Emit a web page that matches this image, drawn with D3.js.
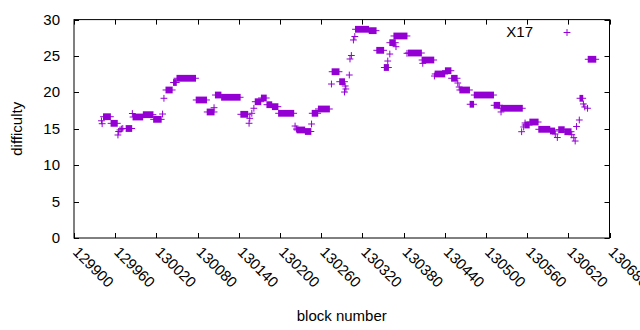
<!DOCTYPE html>
<html>
<head>
<meta charset="utf-8">
<script src="https://cdn.jsdelivr.net/npm/d3@7"></script>
<style>
  html, body { margin: 0; padding: 0; background: #fff; }
  text { font-family: "Liberation Sans", Arial, sans-serif; fill: #000; }
</style>
</head>
<body>
<svg id="chart" width="640" height="330"></svg>
<script>
// runs of blocks at one difficulty (start block, end block, difficulty); single points have start == end
var runStart = [129940,129941,129943,129954,129964,129965,129967,129969,129971,129976,
  129985,129986,130001,130016,130029,130031,130034,130045,130050,130078,
  130094,130104,130106,130115,130143,130155,130156,130159,130162,130164,
  130173,130181,130189,130198,130222,130224,130225,130237,130246,130247,
  130256,130275,130276,130287,130294,130295,130296,130301,130302,130304,
  130307,130309,130310,130330,130341,130352,130357,130360,130360,130369,
  130366,130385,130387,130408,130407,130425,130426,130441,130450,130459,
  130461,130462,130477,130483,130512,130522,130522,130552,130555,130557,
  130557,130564,130577,130594,130601,130604,130606,130615,130625,130628,
  130630,130632,130636,130637,130642,130644,130648,130649];
var runEnd = [129940,129941,129953,129963,129964,129965,129967,129969,129971,129984,
  129985,130000,130015,130027,130029,130031,130043,130049,130077,130093,
  130104,130104,130114,130142,130153,130155,130156,130159,130162,130172,
  130180,130188,130197,130220,130222,130224,130236,130245,130246,130255,
  130272,130275,130286,130294,130294,130295,130296,130301,130302,130304,
  130307,130309,130329,130340,130351,130358,130357,130360,130368,130369,
  130385,130385,130406,130408,130424,130425,130440,130449,130458,130459,
  130461,130476,130482,130511,130520,130522,130553,130552,130555,130557,
  130563,130576,130593,130600,130601,130604,130614,130624,130625,130628,
  130630,130632,130636,130641,130642,130644,130648,130660];
var runDiff = [16.1,15.7,16.66,15.75,14.15,14.63,14.84,14.97,15.04,15.04,
  17.1,16.62,16.94,16.3,17.03,19.19,20.33,21.36,21.94,18.96,
  17.31,17.9,19.64,19.33,16.99,15.76,16.44,17.13,17.82,18.72,
  19.23,18.31,18.04,17.13,15.38,14.97,14.84,14.63,15.66,17.13,
  17.72,21.15,22.84,21.47,20.05,20.88,20.47,22.39,24.59,25.07,
  27.2,27.68,28.67,28.48,25.78,23.42,24.31,25.27,26.83,26.28,
  27.75,25.37,25.41,23.99,24.45,22.25,22.53,22.98,21.94,21.29,
  20.74,20.33,18.37,19.64,18.23,17.31,17.82,14.6,15.25,15.8,
  15.52,15.93,14.93,14.7,14.29,13.8,14.88,14.6,14.19,13.78,
  13.32,15.32,16.21,19.19,18.41,18.0,17.82,24.55];

var xTicks = [129900,129960,130020,130080,130140,130200,130260,130320,130380,130440,130500,130560,130620,130680];
var yTicks = [0,5,10,15,20,25,30];
var seriesName = "X17";

(function () {
  "use strict";
  var COLOR = "#9400d3", ARM = 3.4, TICK = 5;
  var L = 74, R = 609.5, T = 19.6, B = 238;

  var x = d3.scaleLinear().domain([129900, 130680]).range([L, R]);
  var y = d3.scaleLinear().domain([0, 30]).range([B, T]);
  var svg = d3.select("#chart");

  // frame + ticks (inward, mirrored)
  var ax = svg.append("g").attr("stroke", "#000").attr("stroke-width", 1).attr("fill", "none");
  ax.append("rect").attr("x", L).attr("y", T).attr("width", R - L).attr("height", B - T);
  yTicks.forEach(function (v) {
    var yy = Math.round(y(v)) + 0.5;
    ax.append("path").attr("d", "M" + L + "," + yy + "h" + TICK + "M" + R + "," + yy + "h" + (-TICK));
  });
  xTicks.forEach(function (v) {
    var xx = Math.round(x(v)) + 0.5;
    ax.append("path").attr("d", "M" + xx + "," + B + "v" + (-TICK) + "M" + xx + "," + T + "v" + TICK);
  });

  // tick labels
  svg.append("g").selectAll("text").data(yTicks).enter().append("text")
    .attr("x", 60).attr("y", function (v) { return y(v) + 5; })
    .attr("text-anchor", "end").style("font-size", "15px").text(function (v) { return v; });
  svg.append("g").selectAll("text").data(xTicks).enter().append("text")
    .attr("transform", function (v) { return "translate(" + (x(v) - 2) + "," + (B + 15) + ") rotate(45)"; })
    .attr("text-anchor", "start").style("font-size", "15px").text(function (v) { return v; });

  // axis titles
  svg.append("text").attr("x", (L + R) / 2).attr("y", 321).attr("text-anchor", "middle")
    .style("font-size", "15px").text("block number");
  svg.append("text").attr("transform", "translate(22," + ((T + B) / 2) + ") rotate(-90)")
    .attr("text-anchor", "middle").style("font-size", "15px").text("difficulty");

  // points: each run of "+" markers merges into a bar of vertical arms plus one horizontal line
  var pts = svg.append("g");
  runStart.forEach(function (s, i) {
    var x0 = x(s), x1 = x(runEnd[i]), yy = y(runDiff[i]);
    pts.append("rect").attr("x", x0 - 0.5).attr("y", yy - ARM)
      .attr("width", x1 - x0 + 1).attr("height", ARM * 2).attr("fill", COLOR);
    pts.append("path").attr("d", "M" + (x0 - ARM) + "," + yy + "H" + (x1 + ARM))
      .attr("stroke", COLOR).attr("stroke-width", 1).attr("fill", "none");
  });

  // legend
  svg.append("text").attr("x", 533).attr("y", 37).attr("text-anchor", "end")
    .style("font-size", "15px").text(seriesName);
  svg.append("path").attr("d", "M" + (567 - ARM) + ",32.5h" + (ARM * 2) + "M567," + (32.5 - ARM) + "v" + (ARM * 2))
    .attr("stroke", COLOR).attr("stroke-width", 1);
})();
</script>
</body>
</html>
